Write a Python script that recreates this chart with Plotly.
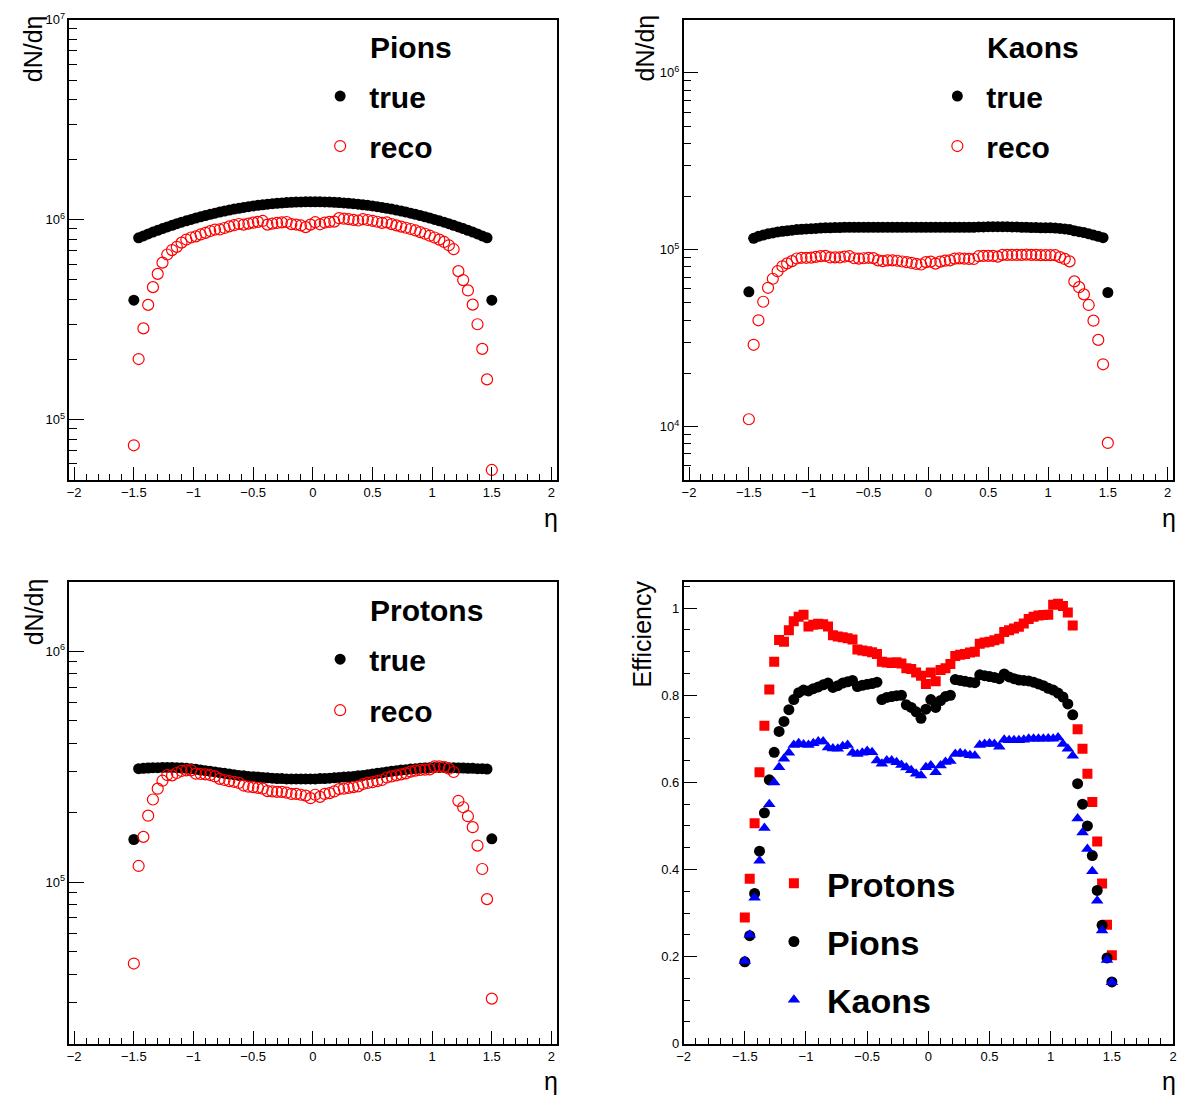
import plotly.graph_objects as go

W, H = 1183, 1099

# ---------------- data ----------------
ETA = [-1.50, -1.46, -1.42, -1.38, -1.34, -1.30, -1.26, -1.22, -1.18, -1.14, -1.10, -1.06, -1.02,
       -0.98, -0.94, -0.90, -0.86, -0.82, -0.78, -0.74, -0.70, -0.66, -0.62, -0.58, -0.54, -0.50,
       -0.46, -0.42, -0.38, -0.34, -0.30, -0.26, -0.22, -0.18, -0.14, -0.10, -0.06, -0.02,
       0.02, 0.06, 0.10, 0.14, 0.18, 0.22, 0.26, 0.30, 0.34, 0.38, 0.42, 0.46, 0.50, 0.54, 0.58,
       0.62, 0.66, 0.70, 0.74, 0.78, 0.82, 0.86, 0.90, 0.94, 0.98, 1.02, 1.06, 1.10, 1.14, 1.18,
       1.22, 1.26, 1.30, 1.34, 1.38, 1.42, 1.46, 1.50]

PION_TRUE = [396e3, 812e3, 830e3, 849e3, 867e3, 885e3, 903e3, 920e3, 938e3, 955e3, 972e3, 988e3, 1004e3,
             1020e3, 1035e3, 1050e3, 1065e3, 1079e3, 1093e3, 1106e3, 1118e3, 1130e3, 1141e3, 1152e3, 1162e3,
             1172e3, 1180e3, 1188e3, 1196e3, 1203e3, 1209e3, 1214e3, 1218e3, 1222e3, 1225e3, 1228e3, 1229e3, 1230e3,
             1230e3, 1229e3, 1228e3, 1225e3, 1222e3, 1218e3, 1214e3, 1209e3, 1203e3, 1196e3, 1188e3, 1180e3,
             1172e3, 1162e3, 1152e3, 1141e3, 1130e3, 1118e3, 1106e3, 1093e3, 1079e3, 1065e3, 1050e3, 1035e3,
             1020e3, 1004e3, 988e3, 972e3, 955e3, 938e3, 920e3, 903e3, 885e3, 867e3, 849e3, 830e3, 812e3, 396e3]
PION_RECO = [74.4e3, 201e3, 286e3, 375e3, 460e3, 536e3, 610e3, 670e3, 705e3, 732e3, 768e3, 796e3, 815e3,
             826e3, 844e3, 860e3, 878e3, 893e3, 894e3, 909e3, 926e3, 939e3, 952e3, 945e3, 956e3, 967e3,
             976e3, 986e3, 945e3, 956e3, 964e3, 970e3, 974e3, 951e3, 946e3, 936e3, 918e3, 945e3,
             972e3, 949e3, 968e3, 976e3, 978e3, 1018e3, 1012e3, 1006e3, 998e3, 991e3, 1006e3, 997e3,
             988e3, 977e3, 965e3, 969e3, 951e3, 937e3, 924e3, 912e3, 899e3, 884e3, 867e3, 851e3,
             832e3, 815e3, 795e3, 774e3, 745e3, 712e3, 553e3, 499e3, 443e3, 376e3, 300e3, 226e3, 159e3, 56.0e3]

KAON_TRUE = [57.8e3, 116e3, 119e3, 121e3, 123e3, 124.5e3, 126e3, 127e3, 128e3, 129e3, 130e3, 130.5e3, 131e3,
             131.5e3, 132e3, 132.5e3, 133e3, 133e3, 133.5e3, 133.5e3, 134e3, 134e3, 134e3, 134e3, 134e3,
             134e3, 134e3, 134e3, 134e3, 134e3, 134e3, 134e3, 134e3, 134e3, 134e3, 134e3, 134e3, 134e3,
             134e3, 134e3, 134e3, 134e3, 134e3, 134e3, 134e3, 134e3, 134e3, 134e3, 134.5e3, 134.5e3,
             135e3, 135e3, 135e3, 135e3, 135e3, 134.5e3, 134.5e3, 134e3, 134e3, 133.5e3, 133.5e3, 133e3,
             133e3, 133e3, 132.5e3, 132e3, 131e3, 130e3, 128e3, 126.5e3, 125e3, 123e3, 121e3, 119e3, 117e3, 57.3e3]
KAON_RECO = [11.0e3, 29.0e3, 39.9e3, 50.8e3, 60.9e3, 68.5e3, 75.6e3, 80.6e3, 83.7e3, 86.2e3, 89.2e3, 90.0e3, 90.0e3,
             90.2e3, 91.1e3, 92.0e3, 92.3e3, 90.4e3, 90.5e3, 90.4e3, 91.5e3, 91.9e3, 89.5e3, 89.1e3, 89.5e3,
             90.0e3, 89.6e3, 87.1e3, 86.2e3, 87.1e3, 87.1e3, 86.6e3, 85.8e3, 85.0e3, 84.2e3, 83.1e3, 82.5e3, 85.1e3,
             85.6e3, 83.5e3, 85.6e3, 86.7e3, 87.0e3, 89.1e3, 89.4e3, 89.1e3, 88.7e3, 88.6e3, 91.9e3, 92.2e3,
             92.3e3, 92.2e3, 91.4e3, 93.5e3, 93.4e3, 93.4e3, 93.4e3, 93.5e3, 93.8e3, 93.5e3, 93.5e3, 93.1e3,
             93.2e3, 93.1e3, 93.1e3, 90.8e3, 88.7e3, 85.9e3, 66.2e3, 61.4e3, 55.9e3, 48.7e3, 39.7e3, 30.9e3, 22.5e3, 8.08e3]

PROTON_TRUE = [153e3, 310e3, 311e3, 312e3, 313e3, 313e3, 314e3, 314e3, 314e3, 313e3, 312e3, 311e3, 310e3,
               308e3, 306e3, 304e3, 302e3, 300e3, 298e3, 296e3, 294e3, 292e3, 290e3, 289e3, 287e3,
               286e3, 285e3, 284e3, 283e3, 282e3, 281e3, 281e3, 280e3, 280e3, 280e3, 280e3, 280e3, 280e3,
               280e3, 281e3, 281e3, 282e3, 283e3, 284e3, 285e3, 286e3, 287e3, 289e3, 290e3, 292e3,
               294e3, 296e3, 298e3, 300e3, 302e3, 304e3, 306e3, 307e3, 309e3, 310e3, 311e3, 312e3,
               313e3, 314e3, 314e3, 314e3, 313e3, 313e3, 312e3, 312e3, 311e3, 311e3, 310e3, 310e3, 309e3, 154e3]
PROTON_RECO = [44.4e3, 117.5e3, 157e3, 194e3, 228e3, 254e3, 275e3, 291e3, 290e3, 297e3, 303e3, 305e3, 305e3,
               295e3, 294e3, 293e3, 291e3, 287e3, 280e3, 277e3, 274e3, 272e3, 269e3, 262e3, 259e3,
               258e3, 256e3, 254e3, 248e3, 247e3, 246e3, 246e3, 244e3, 241e3, 241e3, 239e3, 237e3, 231e3,
               239e3, 234e3, 241e3, 243e3, 247e3, 253e3, 254e3, 256e3, 258e3, 260e3, 266e3, 269e3,
               271e3, 274e3, 277e3, 284e3, 287e3, 290e3, 293e3, 296e3, 301e3, 304e3, 306e3, 307e3,
               308e3, 317e3, 317e3, 316e3, 310e3, 300e3, 225e3, 211e3, 193e3, 173e3, 144e3, 114e3, 84.4e3, 31.3e3]

EFF_PROTON = [0.290, 0.379, 0.506, 0.623, 0.730, 0.813, 0.877, 0.927, 0.923, 0.949, 0.970, 0.980, 0.985,
              0.958, 0.962, 0.964, 0.963, 0.958, 0.938, 0.935, 0.933, 0.931, 0.928, 0.905, 0.903,
              0.901, 0.899, 0.895, 0.877, 0.875, 0.874, 0.876, 0.873, 0.862, 0.860, 0.852, 0.845, 0.826,
              0.852, 0.832, 0.858, 0.862, 0.872, 0.890, 0.893, 0.895, 0.898, 0.900, 0.918, 0.921,
              0.923, 0.926, 0.930, 0.945, 0.949, 0.953, 0.957, 0.965, 0.975, 0.980, 0.983, 0.984,
              0.985, 1.008, 1.010, 1.005, 0.990, 0.960, 0.722, 0.677, 0.620, 0.555, 0.464, 0.368, 0.273, 0.203]
EFF_PION = [0.188, 0.248, 0.345, 0.442, 0.530, 0.606, 0.669, 0.717, 0.740, 0.767, 0.790, 0.806, 0.812,
            0.810, 0.815, 0.819, 0.824, 0.828, 0.818, 0.822, 0.828, 0.831, 0.834, 0.820, 0.823,
            0.825, 0.827, 0.830, 0.790, 0.795, 0.797, 0.799, 0.800, 0.778, 0.772, 0.762, 0.747, 0.768,
            0.790, 0.772, 0.788, 0.797, 0.800, 0.836, 0.834, 0.832, 0.830, 0.829, 0.847, 0.845,
            0.843, 0.841, 0.838, 0.849, 0.842, 0.838, 0.835, 0.834, 0.833, 0.830, 0.826, 0.822,
            0.816, 0.812, 0.805, 0.796, 0.780, 0.755, 0.597, 0.550, 0.500, 0.432, 0.352, 0.272, 0.197, 0.142]
EFF_KAON = [0.190, 0.250, 0.335, 0.420, 0.495, 0.550, 0.600, 0.635, 0.654, 0.668, 0.686, 0.690, 0.687,
            0.686, 0.690, 0.694, 0.694, 0.680, 0.678, 0.677, 0.683, 0.686, 0.668, 0.665, 0.668,
            0.672, 0.669, 0.650, 0.643, 0.650, 0.650, 0.646, 0.640, 0.634, 0.628, 0.620, 0.616, 0.635,
            0.639, 0.623, 0.639, 0.647, 0.649, 0.665, 0.667, 0.665, 0.662, 0.661, 0.686, 0.688,
            0.689, 0.688, 0.682, 0.698, 0.697, 0.697, 0.697, 0.698, 0.700, 0.700, 0.700, 0.700,
            0.701, 0.700, 0.703, 0.688, 0.677, 0.661, 0.517, 0.485, 0.447, 0.396, 0.328, 0.260, 0.192, 0.141]

X_TICKS = [-2, -1.5, -1, -0.5, 0, 0.5, 1, 1.5, 2]

# ---------------- figure ----------------
FONT = "Liberation Sans, Arial, Helvetica, sans-serif"
fig = go.Figure()

def add_pair(xa, ya, leg, true_vals, reco_vals):
    fig.add_trace(go.Scatter(x=ETA, y=true_vals, mode="markers", name="true", xaxis=xa, yaxis=ya,
                             legend=leg, legendgroup=leg + "t",
                             marker=dict(symbol="circle", size=11, color="black")))
    fig.add_trace(go.Scatter(x=ETA, y=reco_vals, mode="markers", name="reco", xaxis=xa, yaxis=ya,
                             legend=leg, legendgroup=leg + "r",
                             marker=dict(symbol="circle-open", size=11, color="red", line=dict(width=1.2, color="red"))))

add_pair("x", "y", "legend", PION_TRUE, PION_RECO)
add_pair("x2", "y2", "legend2", KAON_TRUE, KAON_RECO)
add_pair("x3", "y3", "legend3", PROTON_TRUE, PROTON_RECO)

fig.add_trace(go.Scatter(x=ETA, y=EFF_PROTON, mode="markers", name="Protons", xaxis="x4", yaxis="y4",
                         legend="legend4", legendgroup="p",
                         marker=dict(symbol="square", size=10, color="red")))
fig.add_trace(go.Scatter(x=ETA, y=EFF_PION, mode="markers", name="Pions", xaxis="x4", yaxis="y4",
                         legend="legend4", legendgroup="pi",
                         marker=dict(symbol="circle", size=11, color="black")))
fig.add_trace(go.Scatter(x=ETA, y=EFF_KAON, mode="markers", name="Kaons", xaxis="x4", yaxis="y4",
                         legend="legend4", legendgroup="k",
                         marker=dict(symbol="triangle-up", size=11, color="blue")))

XL = [63 / W, 555 / W]
XR = [683 / W, 1177 / W]
YT = [1 - 478 / H, 1 - 11 / H]
YB = [1 - 1051 / H, 1 - 582 / H]

tickfont = dict(family=FONT, size=13, color="black")

def xaxis(domain, anchor, rng):
    return dict(domain=domain, anchor=anchor, range=rng, showgrid=False, zeroline=False,
                showline=True, mirror=True, linecolor="black", linewidth=1.5,
                ticks="inside", ticklen=13, tickcolor="black", tickwidth=1,
                tickmode="array", tickvals=X_TICKS, tickfont=tickfont,
                minor=dict(ticks="inside", ticklen=6, dtick=0.1, tick0=0, tickcolor="black", tickwidth=1,
                           showgrid=False))

def logaxis(domain, anchor, lo, hi):
    import math
    decades = [d for d in range(int(lo), int(hi) + 1) if lo <= d <= hi]
    major = [10.0 ** d for d in decades]
    minor = [m * 10.0 ** d for d in range(int(lo) - 1, int(hi) + 1) for m in range(2, 10)
             if lo <= math.log10(m * 10.0 ** d) <= hi]
    return dict(domain=domain, anchor=anchor, type="log", range=[lo, hi], showgrid=False, zeroline=False,
                showline=True, mirror=True, linecolor="black", linewidth=1.5,
                ticks="inside", ticklen=15, tickcolor="black", tickwidth=1,
                tickmode="array", tickvals=major,
                ticktext=["10<sup>%d</sup>" % d for d in decades], tickfont=tickfont,
                minor=dict(ticks="inside", ticklen=8, tickvals=minor, tickcolor="black", tickwidth=1,
                           showgrid=False))

fig.update_layout(
    width=W, height=H, margin=dict(l=0, r=0, t=0, b=0),
    paper_bgcolor="white", plot_bgcolor="white",
    font=dict(family=FONT, color="black"),
    xaxis=xaxis(XL, "y", [-2.04, 2.045]),
    yaxis=logaxis(YT, "x", 4.7, 7.0),
    xaxis2=xaxis(XR, "y2", [-2.045, 2.045]),
    yaxis2=logaxis(YT, "x2", 3.7, 6.3),
    xaxis3=xaxis(XL, "y3", [-2.04, 2.045]),
    yaxis3=logaxis(YB, "x3", 4.3, 6.3),
    xaxis4=xaxis(XR, "y4", [-2.0, 2.0]),
    yaxis4=dict(domain=YB, anchor="x4", range=[0, 1.06], showgrid=False, zeroline=False,
                showline=True, mirror=True, linecolor="black", linewidth=1.5,
                ticks="inside", ticklen=14, tickcolor="black", tickwidth=1,
                tickmode="array", tickvals=[0, 0.2, 0.4, 0.6, 0.8, 1.0], tickfont=tickfont,
                minor=dict(ticks="inside", ticklen=7, dtick=0.05, tick0=0, tickcolor="black", tickwidth=1,
                           showgrid=False)),
)

legfont = dict(family=FONT, size=30, color="black", weight="bold")
legfont4 = dict(family=FONT, size=34, color="black", weight="bold")
common = dict(bgcolor="rgba(0,0,0,0)", borderwidth=0, xanchor="left", yanchor="top",
              traceorder="grouped", itemwidth=48)
fig.update_layout(
    legend=dict(x=307 / W, y=1 - 62 / H, font=legfont, tracegroupgap=8, **common),
    legend2=dict(x=930 / W, y=1 - 62 / H, font=legfont, tracegroupgap=8, **common),
    legend3=dict(x=307 / W, y=1 - 634 / H, font=legfont, tracegroupgap=9, **common),
    legend4=dict(x=761 / W, y=1 - 859 / H, font=legfont4, tracegroupgap=11,
                 **{**common, "itemwidth": 56}),
)

annots = []
# legend headers
for txt, x, y in [("Pions", 364, 39), ("Kaons", 987, 39), ("Protons", 364, 611)]:
    annots.append(dict(text=txt, x=x / W, y=1 - y / H, xref="paper", yref="paper",
                       xanchor="left", yanchor="middle", showarrow=False, font=legfont))
# y titles
for txt, x, y in [("dN/dη", 27, 4), ("dN/dη", 644, 4), ("dN/dη", 27, 576), ("Efficiency", 640, 579)]:
    annots.append(dict(text=txt, x=x / W, y=1 - y / H, xref="paper", yref="paper", textangle=-90,
                       xanchor="center", yanchor="top", showarrow=False,
                       font=dict(family=FONT, size=25, color="black")))
# x titles
for x, y in [(549, 517), (1173, 517), (549, 1089), (1173, 1089)]:
    annots.append(dict(text="η", x=x / W, y=1 - y / H, xref="paper", yref="paper",
                       xanchor="center", yanchor="middle", showarrow=False,
                       font=dict(family=FONT, size=25, color="black")))
fig.update_layout(annotations=annots)

fig.write_html("out.html")
